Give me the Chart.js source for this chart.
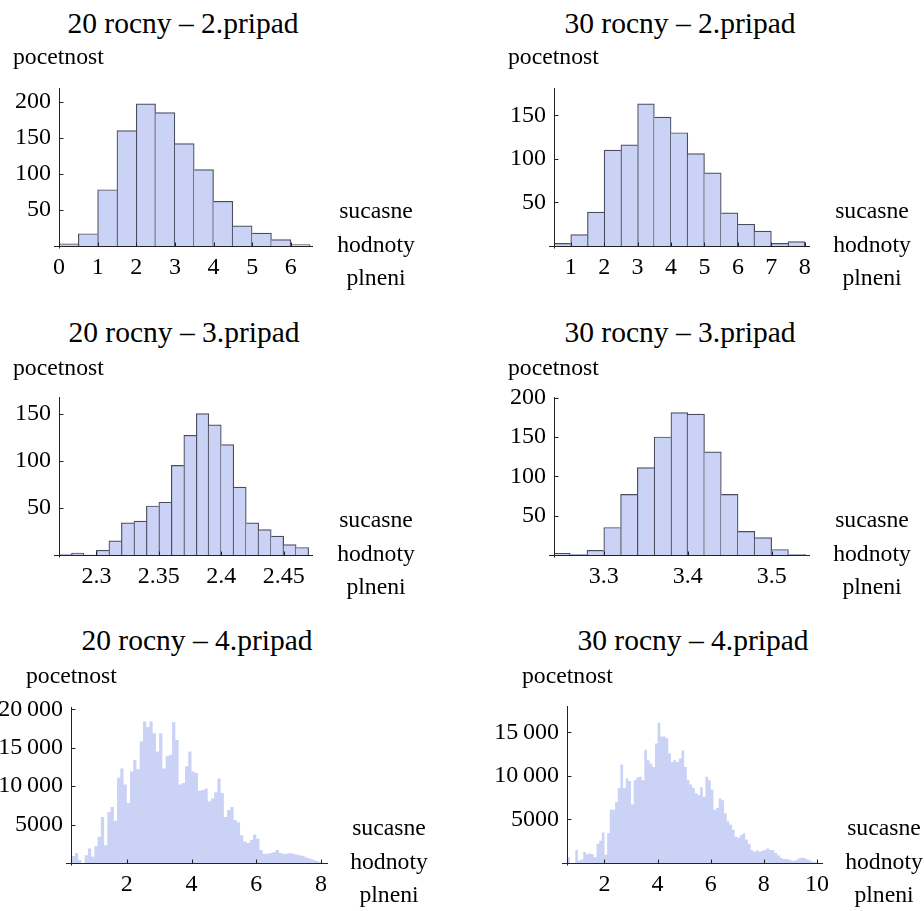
<!DOCTYPE html>
<html>
<head>
<meta charset="utf-8">
<script src="https://cdn.jsdelivr.net/npm/chart.js@4.4.1/dist/chart.umd.min.js"></script>
<style>
  html, body { margin: 0; padding: 0; background: #fff; }
  body { width: 924px; height: 911px; position: relative; overflow: hidden;
         font-family: 'Liberation Serif', Tinos, 'Times New Roman', Times, 'DejaVu Serif', serif; color: #000; }
  canvas { position: absolute; }
  .t { position: absolute; white-space: nowrap; line-height: 1; text-align: center; }
</style>
</head>
<body>
<script>
// ---- data: bin start, bin width, counts, tick values ----
const p1BinStart = 0, p1BinWidth = 0.5;
const p1Counts = [3, 17, 78, 160, 197, 185, 142, 106, 62, 28, 18, 9, 2];
const p1XTicks = [0, 1, 2, 3, 4, 5, 6];
const p1YTicks = [50, 100, 150, 200];

const p2BinStart = 0.5, p2BinWidth = 0.5;
const p2Counts = [3, 13, 39, 110, 116, 163, 148, 130, 106, 84, 38, 25, 17, 3, 5];
const p2XTicks = [1, 2, 3, 4, 5, 6, 7, 8];
const p2YTicks = [50, 100, 150];

const p3BinStart = 2.27, p3BinWidth = 0.01;
const p3Counts = [1, 2, 0, 5, 15, 34, 36, 52, 56, 95, 127, 150, 138, 117, 72, 34, 27, 20, 11, 8];
const p3XTicks = [2.3, 2.35, 2.4, 2.45];
const p3YTicks = [50, 100, 150];

const p4BinStart = 3.24, p4BinWidth = 0.02;
const p4Counts = [2, 1, 6, 35, 77, 111, 150, 181, 179, 131, 77, 30, 22, 7, 1];
const p4XTicks = [3.3, 3.4, 3.5];
const p4YTicks = [50, 100, 150, 200];

const p5BinStart = 0.3, p5BinWidth = 0.1;
const p5Counts = [
  900, 1300, 400, 0, 1000, 1900, 800, 2200, 3400, 6000,
  2300, 6600, 7300, 5500, 11100, 12300, 10200, 7800, 11900, 13400,
  12200, 15800, 18400, 17700, 18400, 16900, 14500, 16900, 12300, 13900,
  14100, 18300, 16000, 10200, 10400, 12600, 14500, 11900, 11700, 9400,
  9500, 9700, 8000, 8400, 9200, 11000, 9100, 6000, 6900, 7300,
  5600, 5300, 3600, 2800, 2600, 3000, 3700, 3200, 1700, 1200,
  1200, 1300, 1400, 1700, 1300, 1200, 1200, 1300, 1200, 1100,
  1000, 900, 700, 600, 450, 300, 150
];
const p5XTicks = [2, 4, 6, 8];
const p5YTicks = [5000, 10000, 15000, 20000];

const p6BinStart = 0.6, p6BinWidth = 0.1;
const p6Counts = [
  650, 0, 0, 1500, 300, 400, 1250, 1000, 1100, 1000,
  700, 2200, 2550, 3500, 950, 3400, 6100, 6100, 7000, 8600,
  11300, 8600, 9700, 9400, 6700, 9500, 9800, 9900, 9500, 13000,
  11800, 11400, 11000, 13700, 16100, 14500, 14500, 14300, 12600, 11600,
  11800, 11600, 12000, 12900, 11000, 9500, 9000, 8600, 8000, 7800,
  8700, 7600, 9900, 9500, 8400, 6100, 6300, 7400, 7200, 5700,
  4800, 4400, 3800, 3000, 2900, 3200, 3400, 2700, 2200, 1500,
  1300, 1450, 1300, 1400, 1500, 1650, 1500, 1450, 1150, 900,
  600, 450, 450, 400, 300, 250, 400, 550, 600, 550,
  400, 300, 150, 80
];
const p6XTicks = [2, 4, 6, 8, 10];
const p6YTicks = [5000, 10000, 15000];

const titles = ['20 rocny \u2013 2.pripad', '30 rocny \u2013 2.pripad', '20 rocny \u2013 3.pripad',
                '30 rocny \u2013 3.pripad', '20 rocny \u2013 4.pripad', '30 rocny \u2013 4.pripad'];
const yLabel = 'pocetnost';
const xLabelLines = ['sucasne', 'hodnoty', 'plneni'];

// ---- look ----
const FONT = "'Liberation Serif', Tinos, 'Times New Roman', Times, 'DejaVu Serif', serif";
const TICK_SIZE = 24;
const FILL = 'rgb(202,210,246)';
const EDGE = 'rgba(60,62,80,0.92)';
const AXIS = '#222';

function fmtY(v) {
  const s = String(v);
  return v >= 10000 ? s.slice(0, -3) + '\u2009' + s.slice(-3) : s;
}
function fmtX(v) { return String(Math.round(v * 1000) / 1000); }

const axesPlugin = {
  id: 'mmaAxes',
  afterDatasetsDraw(chart) {
    const { ctx, chartArea: a, scales: { x, y } } = chart;
    const y0 = Math.round(y.getPixelForValue(0)) + 0.5;
    const xl = Math.round(a.left) + 0.5;
    ctx.save();
    ctx.strokeStyle = AXIS;
    ctx.lineWidth = 1;
    ctx.beginPath();
    ctx.moveTo(a.left - 5, y0); ctx.lineTo(a.right, y0);
    ctx.moveTo(xl, a.top); ctx.lineTo(xl, y0 + 2);
    x.ticks.forEach(t => {
      const px = Math.round(x.getPixelForValue(t.value)) + 0.5;
      ctx.moveTo(px, y0); ctx.lineTo(px, y0 - 4);
    });
    y.ticks.forEach(t => {
      const py = Math.round(y.getPixelForValue(t.value)) + 0.5;
      ctx.moveTo(xl, py); ctx.lineTo(xl + 4, py);
    });
    ctx.stroke();
    ctx.restore();
  }
};

// canvas margins around the plot area: room for tick labels on the left / bottom
const PL = 75, PT = 28, PR = 25, PB = 45;

function scalesFor(p) {
  return {
    x: {
      type: 'linear', min: p.xMin, max: p.xMax, offset: false,
      grid: { display: false, drawTicks: false }, border: { display: false },
      afterBuildTicks: s => { s.ticks = p.xTicks.map(v => ({ value: v })); },
      ticks: { autoSkip: false, maxRotation: 0, padding: 7,
               color: '#000', font: { family: FONT, size: TICK_SIZE }, callback: v => fmtX(v) },
      afterFit: s => { s.height = PB; }
    },
    y: {
      type: 'linear', min: 0, max: p.yMax,
      grid: { display: false, drawTicks: false }, border: { display: false },
      afterBuildTicks: s => { s.ticks = p.yTicks.map(v => ({ value: v })); },
      ticks: { autoSkip: false, padding: 8,
               color: '#000', font: { family: FONT, size: TICK_SIZE }, callback: v => fmtY(v) },
      afterFit: s => { s.width = PL; }
    }
  };
}

function baseOptions(p) {
  return {
    responsive: false, animation: false, devicePixelRatio: 1, events: [],
    layout: { padding: { left: 0, top: PT, right: PR, bottom: 0 } },
    plugins: { legend: { display: false }, tooltip: { enabled: false } },
    scales: scalesFor(p)
  };
}

function addCanvas(area) {
  const c = document.createElement('canvas');
  const w = area.r - area.l + PL + PR, h = area.b - area.t + PT + PB;
  c.width = w; c.height = h;
  c.style.width = w + 'px'; c.style.height = h + 'px';
  c.style.left = (area.l - PL) + 'px'; c.style.top = (area.t - PT) + 'px';
  document.body.appendChild(c);
  return c;
}

// outlined histogram bars (each boundary stroked once)
function barChart(p) {
  const counts = p.counts;
  const pts = counts.map((v, i) => ({ x: p.binStart + (i + 0.5) * p.binWidth, y: v }));
  new Chart(addCanvas(p.area), {
    type: 'bar',
    data: { datasets: [{
      data: pts, backgroundColor: FILL, borderColor: EDGE, borderSkipped: false,
      barPercentage: 1, categoryPercentage: 1,
      borderWidth: ctx => {
        const i = ctx.dataIndex, v = counts[i];
        const prev = i > 0 ? counts[i - 1] : 0;
        const next = i < counts.length - 1 ? counts[i + 1] : 0;
        return { top: 1.2, bottom: 0, left: prev <= v ? 1.2 : 0, right: next < v ? 1.2 : 0 };
      }
    }] },
    options: baseOptions(p),
    plugins: [axesPlugin]
  });
}

// dense histogram as a filled step outline
function stepChart(p) {
  const pts = p.counts.map((v, i) => ({ x: p.binStart + i * p.binWidth, y: v }));
  pts.push({ x: p.binStart + p.counts.length * p.binWidth, y: 0 });
  new Chart(addCanvas(p.area), {
    type: 'line',
    data: { datasets: [{
      data: pts, stepped: true, fill: 'origin', backgroundColor: FILL,
      borderWidth: 0, borderColor: 'rgba(0,0,0,0)', pointRadius: 0
    }] },
    options: baseOptions(p),
    plugins: [axesPlugin]
  });
}

barChart({ counts: p1Counts, binStart: p1BinStart, binWidth: p1BinWidth, xTicks: p1XTicks, yTicks: p1YTicks,
  area: { l: 59, t: 88, r: 313, b: 246 }, xMin: 0, xMax: 6.576, yMax: 219 });
barChart({ counts: p2Counts, binStart: p2BinStart, binWidth: p2BinWidth, xTicks: p2XTicks, yTicks: p2YTicks,
  area: { l: 554, t: 88, r: 810, b: 246 }, xMin: 0.5, xMax: 8.155, yMax: 181.3 });
barChart({ counts: p3Counts, binStart: p3BinStart, binWidth: p3BinWidth, xTicks: p3XTicks, yTicks: p3YTicks,
  area: { l: 59, t: 397, r: 313, b: 555 }, xMin: 2.27, xMax: 2.4735, yMax: 167.6 });
barChart({ counts: p4Counts, binStart: p4BinStart, binWidth: p4BinWidth, xTicks: p4XTicks, yTicks: p4YTicks,
  area: { l: 554, t: 397, r: 810, b: 555 }, xMin: 3.2407, xMax: 3.5457, yMax: 200.8 });
stepChart({ counts: p5Counts, binStart: p5BinStart, binWidth: p5BinWidth, xTicks: p5XTicks, yTicks: p5YTicks,
  area: { l: 71, t: 707, r: 328, b: 863 }, xMin: 0.277, xMax: 8.217, yMax: 20300 });
stepChart({ counts: p6Counts, binStart: p6BinStart, binWidth: p6BinWidth, xTicks: p6XTicks, yTicks: p6YTicks,
  area: { l: 567, t: 706, r: 823, b: 863 }, xMin: 0.589, xMax: 10.226, yMax: 18010 });

// ---- text (baseline placement, line-height 1) ----
function addText(str, x, baseline, size, align) {
  const d = document.createElement('div');
  d.className = 't';
  d.textContent = str;
  d.style.fontSize = size + 'px';
  d.style.top = (baseline - 0.8375 * size) + 'px';
  if (align === 'left') { d.style.left = x + 'px'; d.style.textAlign = 'left'; }
  else { d.style.left = (x - 200) + 'px'; d.style.width = '400px'; }
  document.body.appendChild(d);
}

const titlePos = [[183, 34], [680, 34], [184, 343], [680, 343], [197, 651], [693, 651]];
const yLabelPos = [[13, 65], [508, 65], [13, 376], [508, 376], [26, 684], [522, 684]];
const xLabelPos = [[376, 219], [872, 219], [376, 528], [872, 528], [389, 836], [884, 836]];

titles.forEach((s, i) => addText(s, titlePos[i][0], titlePos[i][1], 29.5, 'center'));
yLabelPos.forEach(([x, b]) => addText(yLabel, x, b, 23.7, 'left'));
xLabelPos.forEach(([x, b]) => xLabelLines.forEach((s, k) => addText(s, x, b + k * 33.5, 23.7, 'center')));
</script>
</body>
</html>
